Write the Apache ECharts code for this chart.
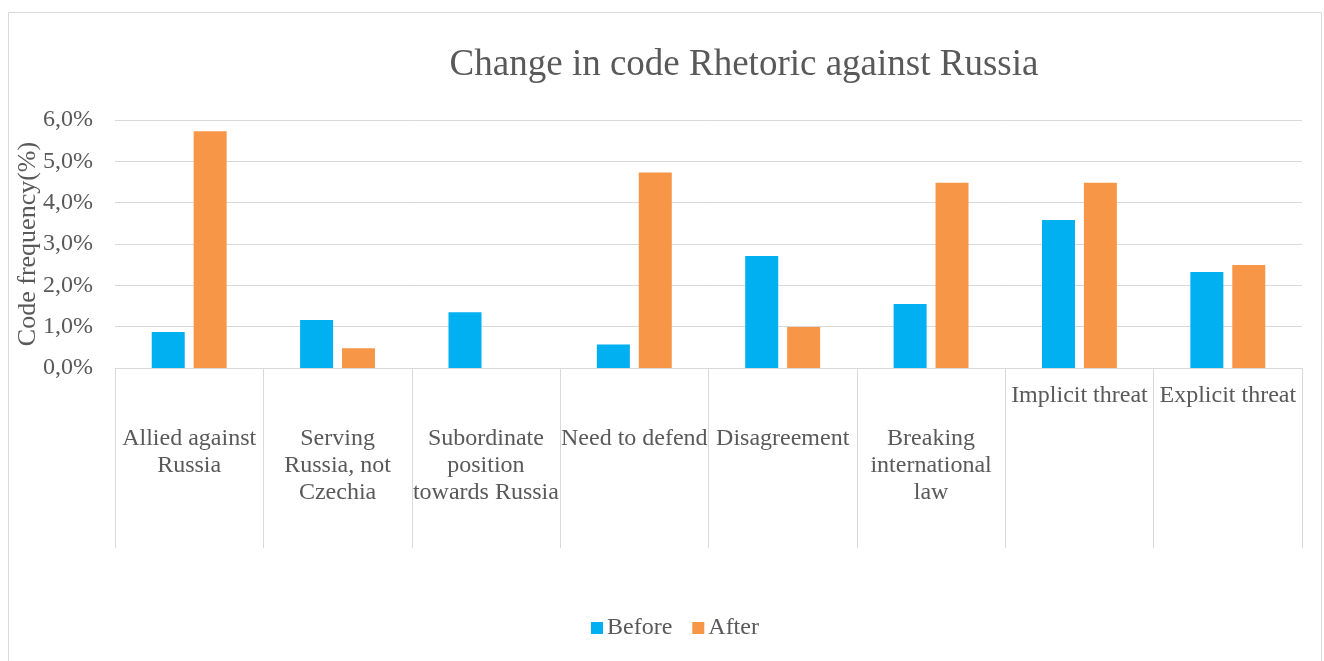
<!DOCTYPE html>
<html>
<head>
<meta charset="utf-8">
<script src="https://cdn.jsdelivr.net/npm/echarts@6/dist/echarts.min.js"></script>
<style>
  html, body { margin: 0; padding: 0; background: #fff; }
  #chart { width: 1324px; height: 661px; }
</style>
</head>
<body>
<div id="chart"></div>
<script>
// categories (line breaks as in the original wrapped labels)
var categories = [
  'Allied against\nRussia',
  'Serving\nRussia, not\nCzechia',
  'Subordinate\nposition\ntowards Russia',
  'Need to defend',
  'Disagreement',
  'Breaking\ninternational\nlaw',
  'Implicit threat',
  'Explicit threat'
];
// these two sit higher up under the axis
var raisedLabels = ['Implicit threat', 'Explicit threat'];

var beforeValues = [0.87, 1.16, 1.35, 0.57, 2.71, 1.55, 3.58, 2.32];
var afterValues = [5.73, 0.48, 0, 4.73, 0.99, 4.48, 4.48, 2.49];

var textColor = '#595959';
var lineColor = '#d9d9d9';
var font = '"Liberation Serif", "Times New Roman", serif';

var catData = categories.map(function (c) {
  if (raisedLabels.indexOf(c) >= 0) {
    return { value: c, textStyle: { padding: [0, 0, 0, 0] } };
  }
  return c;
});

var chart = echarts.init(document.getElementById('chart'));
chart.setOption({
  backgroundColor: '#fff',
  animation: false,
  textStyle: { fontFamily: font },
  graphic: [{
    type: 'rect',
    shape: { x: 8.5, y: 12.5, width: 1313, height: 660 },
    style: { fill: 'none', stroke: lineColor, lineWidth: 1 },
    silent: true
  }],
  title: {
    text: 'Change in code Rhetoric against Russia',
    left: 739,
    top: 42,
    textAlign: 'center',
    textStyle: { fontFamily: font, fontSize: 37, fontWeight: 'normal', color: textColor }
  },
  legend: {
    bottom: 16,
    left: 586,
    itemWidth: 12,
    itemHeight: 12,
    itemGap: 20,
    icon: 'rect',
    textStyle: { fontFamily: font, fontSize: 24, color: textColor, padding: [0, 0, 0, -1] },
    data: ['Before', 'After']
  },
  grid: { left: 115, right: 22, top: 120, bottom: 293, containLabel: false },
  xAxis: {
    type: 'category',
    data: catData,
    axisLine: { lineStyle: { color: lineColor, width: 1 } },
    axisTick: { show: true, length: 180, interval: 0, lineStyle: { color: lineColor, width: 1 } },
    axisLabel: {
      interval: 0,
      margin: 14,
      padding: [43, 0, 0, 0],
      fontFamily: font,
      fontSize: 24,
      lineHeight: 27,
      color: textColor,
      verticalAlign: 'top'
    }
  },
  yAxis: {
    type: 'value',
    min: 0,
    max: 6,
    interval: 1,
    name: 'Code frequency(%)',
    nameLocation: 'middle',
    nameGap: 74,
    nameMoveOverlap: false,
    nameRotate: 90,
    nameTextStyle: { fontFamily: font, fontSize: 26, color: textColor },
    axisLine: { show: false },
    axisTick: { show: false },
    splitLine: { lineStyle: { color: lineColor, width: 1 } },
    axisLabel: {
      margin: 22,
      fontFamily: font,
      fontSize: 24,
      color: textColor,
      formatter: function (v) { return v.toFixed(1).replace('.', ',') + '%'; }
    }
  },
  series: [
    {
      name: 'Before',
      type: 'bar',
      data: beforeValues,
      barWidth: 33,
      barGap: '27%',
      itemStyle: { color: '#00B0F0' }
    },
    {
      name: 'After',
      type: 'bar',
      data: afterValues,
      barWidth: 33,
      itemStyle: { color: '#F79646' }
    }
  ]
});
</script>
</body>
</html>
